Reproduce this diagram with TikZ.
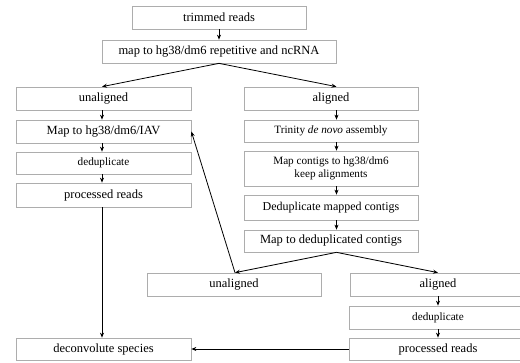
\documentclass[tikz,border=0pt]{standalone}
\usepackage{fontspec}
\setmainfont{Liberation Serif}
\usetikzlibrary{arrows.meta}
\tikzset{
  box/.style={draw=black!32, line width=0.7pt, inner sep=0pt, anchor=center, align=center},
  big/.style={font=\fontsize{12.5}{14}\selectfont},
  small/.style={font=\fontsize{11.2}{13}\selectfont},
  mid/.style={font=\fontsize{12}{13.5}\selectfont},
  arr/.style={-{Stealth[length=5pt,width=4pt]}, line width=0.8pt, black},
}
\begin{document}
\begin{tikzpicture}[x=1pt,y=-1pt]
\useasboundingbox (0,0) rectangle (520,362);
\clip (0,0) rectangle (520,362);
\node[box,big,minimum width=174pt,minimum height=23pt] (trim) at (219,17.5) {trimmed reads};
\node[box,big,minimum width=234pt,minimum height=23pt] (map1) at (219,51.5) {map to hg38/dm6 repetitive and ncRNA};
\node[box,big,minimum width=175pt,minimum height=23pt] (unal1) at (103.5,98.5) {unaligned};
\node[box,big,minimum width=174pt,minimum height=23pt] (al1) at (331,98.5) {aligned};
\node[box,big,minimum width=175pt,minimum height=23pt] (mapiav) at (103.5,131.5) {Map to hg38/dm6/IAV};
\node[box,small,minimum width=175pt,minimum height=22pt] (dedup1) at (103.5,163) {deduplicate};
\node[box,big,minimum width=175pt,minimum height=24pt] (proc1) at (103.5,195) {processed reads};
\node[box,big,minimum width=175pt,minimum height=22pt] (decon) at (103.5,349) {deconvolute species};
\node[box,small,minimum width=174pt,minimum height=22pt] (trin) at (331,131) {Trinity \textit{de novo} assembly};
\node[box,small,minimum width=174pt,minimum height=35pt] (mapc) at (331,168.5) {Map contigs to hg38/dm6\\keep alignments};
\node[box,mid,minimum width=174pt,minimum height=25pt] (dedupc) at (331,207.5) {Deduplicate mapped contigs};
\node[box,big,minimum width=174pt,minimum height=22pt] (mapdc) at (331,241) {Map to deduplicated contigs};
\node[box,big,minimum width=174pt,minimum height=23pt] (unal2) at (234,284.5) {unaligned};
\node[box,big,minimum width=176pt,minimum height=23pt] (al2) at (438,284.5) {aligned};
\node[box,small,minimum width=178pt,minimum height=23pt] (dedup2) at (438,317.5) {deduplicate};
\node[box,big,minimum width=178pt,minimum height=22pt] (proc2) at (438,349) {processed reads};
% arrows
\draw[arr] (trim) -- (map1);
\draw[arr] (map1.south) -- ([xshift=-1.5pt]unal1.north);
\draw[arr] (map1.south) -- ([xshift=5.5pt]al1.north);
\draw[arr] ([xshift=-1.5pt]unal1.south) -- ([xshift=-1.5pt]mapiav.north);
\draw[arr] ([xshift=-1.5pt]mapiav.south) -- ([xshift=-1.5pt]dedup1.north);
\draw[arr] ([xshift=-1.5pt]dedup1.south) -- ([xshift=-1.5pt]proc1.north);
\draw[arr] ([xshift=-1.5pt]proc1.south) -- ([xshift=-1.5pt]decon.north);
\draw[arr] ([xshift=5.5pt]al1.south) -- ([xshift=5.5pt]trin.north);
\draw[arr] ([xshift=5.5pt]trin.south) -- ([xshift=5.5pt]mapc.north);
\draw[arr] ([xshift=5.5pt]mapc.south) -- ([xshift=5.5pt]dedupc.north);
\draw[arr] ([xshift=5.5pt]dedupc.south) -- ([xshift=5.5pt]mapdc.north);
\draw[arr] ([xshift=5.5pt]mapdc.south) -- ([xshift=1pt]unal2.north);
\draw[arr] ([xshift=5.5pt]mapdc.south) -- ([xshift=0pt]al2.north);
\draw[arr] ([xshift=1pt]unal2.north) -- (mapiav.east);
\draw[arr] (al2) -- (dedup2);
\draw[arr] (dedup2) -- (proc2);
\draw[arr] (proc2.west) -- (decon.east);
\end{tikzpicture}
\end{document}
